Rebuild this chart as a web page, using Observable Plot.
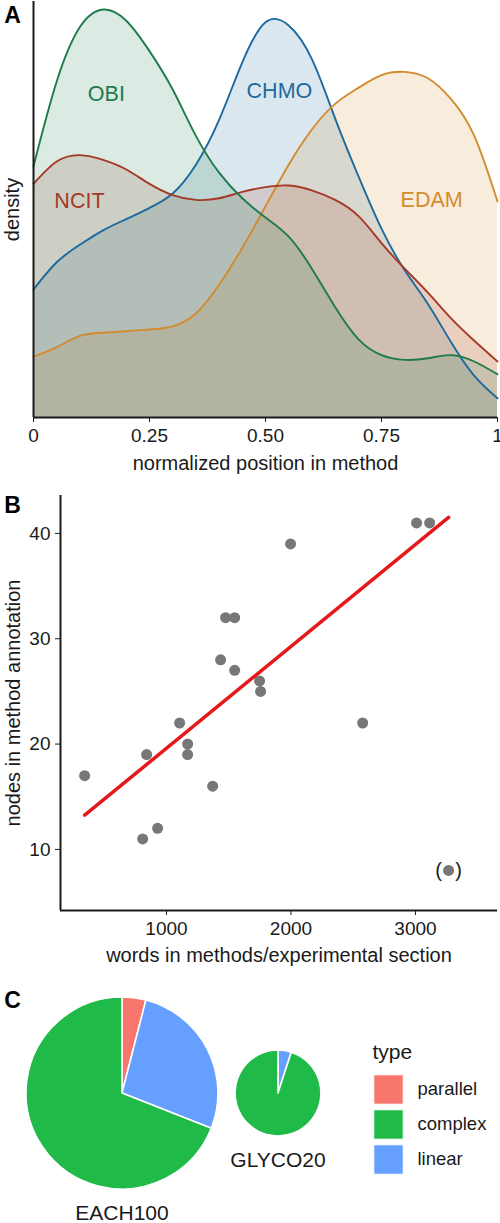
<!DOCTYPE html>
<html>
<head>
<meta charset="utf-8">
<script src="https://cdn.jsdelivr.net/npm/d3@7"></script>
<script src="https://cdn.jsdelivr.net/npm/@observablehq/plot@0.6"></script>
<style>
  body { margin: 0; background: #fff; font-family: "Liberation Sans", Arial, sans-serif; }
  #figure { position: relative; width: 500px; height: 1223px; overflow: hidden; }
  #figure > svg { position: absolute; left: 0; }
</style>
</head>
<body>
<div id="figure"></div>
<script>
// ---------- Panel A: where ontology terms fall along a method ----------
const positions = [0, 0.05, 0.1, 0.15, 0.2, 0.25, 0.3, 0.35, 0.4, 0.45, 0.5,
                   0.55, 0.6, 0.65, 0.7, 0.75, 0.8, 0.85, 0.9, 0.95, 1];
const chmoDensity = [0.80, 0.97, 1.08, 1.17, 1.24, 1.31, 1.40, 1.58, 1.86, 2.22, 2.47,
                     2.45, 2.24, 1.87, 1.51, 1.18, 0.92, 0.71, 0.47, 0.26, 0.12];
const edamDensity = [0.38, 0.44, 0.51, 0.53, 0.54, 0.55, 0.57, 0.65, 0.83, 1.06, 1.32,
                     1.58, 1.80, 1.96, 2.06, 2.14, 2.16, 2.12, 1.99, 1.76, 1.35];
const ncitDensity = [1.46, 1.60, 1.64, 1.61, 1.55, 1.46, 1.39, 1.36, 1.37, 1.41, 1.44,
                     1.45, 1.42, 1.36, 1.26, 1.09, 0.93, 0.78, 0.62, 0.48, 0.35];
const obiDensity  = [1.57, 2.10, 2.44, 2.55, 2.48, 2.29, 2.05, 1.76, 1.53, 1.37, 1.25,
                     1.13, 0.93, 0.69, 0.49, 0.39, 0.36, 0.37, 0.39, 0.35, 0.27];
const ontologies = ["CHMO", "EDAM", "NCIT", "OBI"];
const ontologyColors = ["#1d6a9e", "#d38b2e", "#a43a27", "#1f7b4b"];
const posTicks = [0, 0.25, 0.5, 0.75, 1];
const posTickLabels = ["0", "0.25", "0.50", "0.75", "1"];
// in-plot name tags for each ontology (position, density)
const tagOntology = ["OBI", "CHMO", "NCIT", "EDAM"];
const tagPosition = [0.157, 0.53, 0.099, 0.858];
const tagDensity  = [2.02, 2.04, 1.35, 1.36];

// ---------- Panel B: method length vs annotation size ----------
const words = [343, 809, 929, 841, 1106, 1170, 1170, 1371, 1435, 1475,
               1548, 1548, 1748, 1756, 1997, 2576, 3009, 3114];
const nodes = [17, 11, 12, 19, 22, 20, 19, 16, 28, 32,
               32, 27, 26, 25, 39, 22, 41, 41];
// outlier shown in brackets, left out of the fit
const outlierWords = [3266];
const outlierNodes = [8];
const wordTicks = [1000, 2000, 3000];
const nodeTicks = [10, 20, 30, 40];

// ---------- Panel C: method structure per corpus ----------
const corpora = ["EACH100", "GLYCO20"];
const parallelCount = [4, 0];
const complexCount = [69, 19];
const linearCount = [27, 1];
const types = ["parallel", "complex", "linear"];
const typeColors = ["#f8766d", "#1fba48", "#659fff"];
const sliceOrder = ["parallel", "linear", "complex"];

const font = "'Liberation Sans', Arial, sans-serif";
const ink = "#1a1a1a";
const figure = document.getElementById("figure");

function place(svg, top) {
  svg.style.top = top + "px";
  figure.appendChild(svg);
}

// ---- A ----
const seriesByName = { CHMO: chmoDensity, EDAM: edamDensity, NCIT: ncitDensity, OBI: obiDensity };
const densityRows = ontologies.flatMap(o =>
  positions.map((p, i) => ({ ontology: o, position: p, density: seriesByName[o][i] })));
const tags = tagOntology.map((o, i) => ({ ontology: o, position: tagPosition[i], density: tagDensity[i] }));

const plotA = Plot.plot({
  width: 500, height: 480,
  marginLeft: 33, marginRight: 3, marginTop: 1, marginBottom: 63,
  style: { fontFamily: font, fontSize: "19px", color: ink, background: "none", overflow: "visible" },
  x: { domain: [0, 1], range: [33, 497], ticks: posTicks,
       tickFormat: d => posTickLabels[posTicks.indexOf(d)],
       tickSize: 5, tickPadding: 6, label: null },
  y: { domain: [0, 2.6], range: [417, 1], axis: null },
  color: { domain: ontologies, range: ontologyColors },
  marks: [
    // each density is drawn from zero (overlaid, not stacked)
    Plot.areaY(densityRows, { x: "position", y1: 0, y2: "density", fill: "ontology", fillOpacity: 0.16, curve: "natural" }),
    Plot.lineY(densityRows, { x: "position", y: "density", stroke: "ontology", strokeWidth: 1.9, curve: "natural" }),
    Plot.text(tags, { x: "position", y: "density", text: "ontology", fill: "ontology", fontSize: 21.5 }),
    Plot.ruleY([0], { stroke: ink, strokeWidth: 2 }),
    Plot.ruleX([0], { stroke: ink, strokeWidth: 2 }),
    Plot.text(["normalized position in method"], { frameAnchor: "bottom", dy: 46, lineAnchor: "middle", textAnchor: "middle", fontSize: 20, fill: ink }),
    Plot.text(["density"], { frameAnchor: "left", dx: -21, rotate: -90, textAnchor: "middle", lineAnchor: "middle", fontSize: 20, fill: ink }),
    Plot.text(["A"], { frameAnchor: "top-left", dx: -21, dy: 14, textAnchor: "middle", lineAnchor: "middle", fontSize: 23, fontWeight: "bold", fill: "#000" })
  ]
});
place(plotA, 0);

// ---- B ----
const points = words.map((w, i) => ({ words: w, nodes: nodes[i] }));
const outliers = outlierWords.map((w, i) => ({ words: w, nodes: outlierNodes[i] }));
// least-squares fit on the included methods
const mx = d3.mean(words), my = d3.mean(nodes);
const slope = d3.sum(words, (w, i) => (w - mx) * (nodes[i] - my)) / d3.sum(words, w => (w - mx) ** 2);
const intercept = my - slope * mx;
const fitSpan = d3.extent(words.concat(outlierWords));
const fit = fitSpan.map(w => ({ words: w, nodes: intercept + slope * w }));
const wordDomain = [149, 3659];
const nodeDomain = [4.2, 43.6];

const plotB = Plot.plot({
  width: 500, height: 500,
  marginLeft: 60, marginRight: 3, marginTop: 17, marginBottom: 68,
  style: { fontFamily: font, fontSize: "19px", color: ink, background: "none", overflow: "visible" },
  x: { domain: wordDomain, ticks: wordTicks, tickFormat: d => String(d), tickSize: 5, tickPadding: 6, label: null },
  y: { domain: nodeDomain, ticks: nodeTicks, tickFormat: d => String(d), tickSize: 5, tickPadding: 5, label: null },
  marks: [
    Plot.dot(points, { x: "words", y: "nodes", r: 5.5, fill: "#777" }),
    Plot.dot(outliers, { x: "words", y: "nodes", r: 5.5, fill: "#777" }),
    Plot.text(outliers, { x: "words", y: "nodes", text: () => "(", dx: -10, fontSize: 20, fill: ink }),
    Plot.text(outliers, { x: "words", y: "nodes", text: () => ")", dx: 10, fontSize: 20, fill: ink }),
    Plot.line(fit, { x: "words", y: "nodes", stroke: "#e5191c", strokeWidth: 3.5 }),
    Plot.ruleY([nodeDomain[0]], { stroke: ink, strokeWidth: 2 }),
    Plot.ruleX([wordDomain[0]], { stroke: ink, strokeWidth: 2 }),
    Plot.text(["words in methods/experimental section"], { frameAnchor: "bottom", dy: 45, lineAnchor: "middle", textAnchor: "middle", fontSize: 20, fill: ink }),
    Plot.text(["nodes in method annotation"], { frameAnchor: "left", dx: -47, rotate: -90, textAnchor: "middle", lineAnchor: "middle", fontSize: 20, fill: ink }),
    Plot.text(["B"], { frameAnchor: "top-left", dx: -48, dy: 10, textAnchor: "middle", lineAnchor: "middle", fontSize: 23, fontWeight: "bold", fill: "#000" })
  ]
});
place(plotB, 478);

// ---- C ----
const corpusRows = corpora.map((c, i) => ({
  corpus: c, parallel: parallelCount[i], complex: complexCount[i], linear: linearCount[i],
  total: parallelCount[i] + complexCount[i] + linearCount[i]
}));

// pie wedges sized by the r scale (area ∝ number of methods), coloured by the color scale
function pies(rows) {
  return (index, scales, values, dimensions) => {
    const g = d3.create("svg:g");
    const cy = (dimensions.marginTop + dimensions.height - dimensions.marginBottom) / 2;
    for (const row of rows) {
      const cx = scales.x(row.corpus);
      const radius = scales.r(row.total);
      const slices = d3.pie().sort(null).value(d => d.count)(
        sliceOrder.map(t => ({ type: t, count: row[t] })));
      const arc = d3.arc().innerRadius(0).outerRadius(radius);
      const pie = g.append("g").attr("transform", `translate(${cx},${cy})`);
      pie.selectAll("path")
        .data(slices.filter(s => s.data.count > 0))
        .join("path")
        .attr("d", arc)
        .attr("fill", s => scales.color(s.data.type))
        .attr("stroke", "#fff")
        .attr("stroke-width", 1.6)
        .attr("stroke-linejoin", "round");
      g.append("text")
        .attr("x", cx)
        .attr("y", cy + radius + 23.5)
        .attr("dy", "0.35em")
        .attr("text-anchor", "middle")
        .attr("font-size", 21)
        .attr("fill", ink)
        .text(row.corpus);
    }
    return g.node();
  };
}

const plotC = Plot.plot({
  width: 500, height: 245,
  marginLeft: 0, marginRight: 0, marginTop: 0, marginBottom: 15,
  style: { fontFamily: font, fontSize: "19px", color: ink, background: "none", overflow: "visible" },
  x: { type: "point", domain: corpora, range: [122, 278], padding: 0, axis: null },
  y: { type: "point", domain: types, range: [110.5, 182], padding: 0, axis: null },
  r: { type: "sqrt", domain: [0, 100], range: [0, 96] },
  color: { domain: types, range: typeColors },
  marks: [
    Plot.dot(corpusRows, { x: "corpus", r: "total", fill: "none", stroke: "none" }),
    pies(corpusRows),
    // legend
    Plot.text(["type"], { frameAnchor: "top-left", dx: 372, dy: 74, textAnchor: "start", lineAnchor: "middle", fontSize: 21, fill: ink }),
    Plot.dot(types, { y: d => d, fill: d => d, symbol: "square", r: 16.6, frameAnchor: "left", dx: 388, stroke: "#fff", strokeWidth: 1 }),
    Plot.text(types, { y: d => d, text: d => d, frameAnchor: "left", dx: 417, textAnchor: "start", lineAnchor: "middle", fontSize: 18.5, fill: ink }),
    Plot.text(["C"], { frameAnchor: "top-left", dx: 12, dy: 22, textAnchor: "middle", lineAnchor: "middle", fontSize: 23, fontWeight: "bold", fill: "#000" })
  ]
});
place(plotC, 978);
</script>
</body>
</html>
